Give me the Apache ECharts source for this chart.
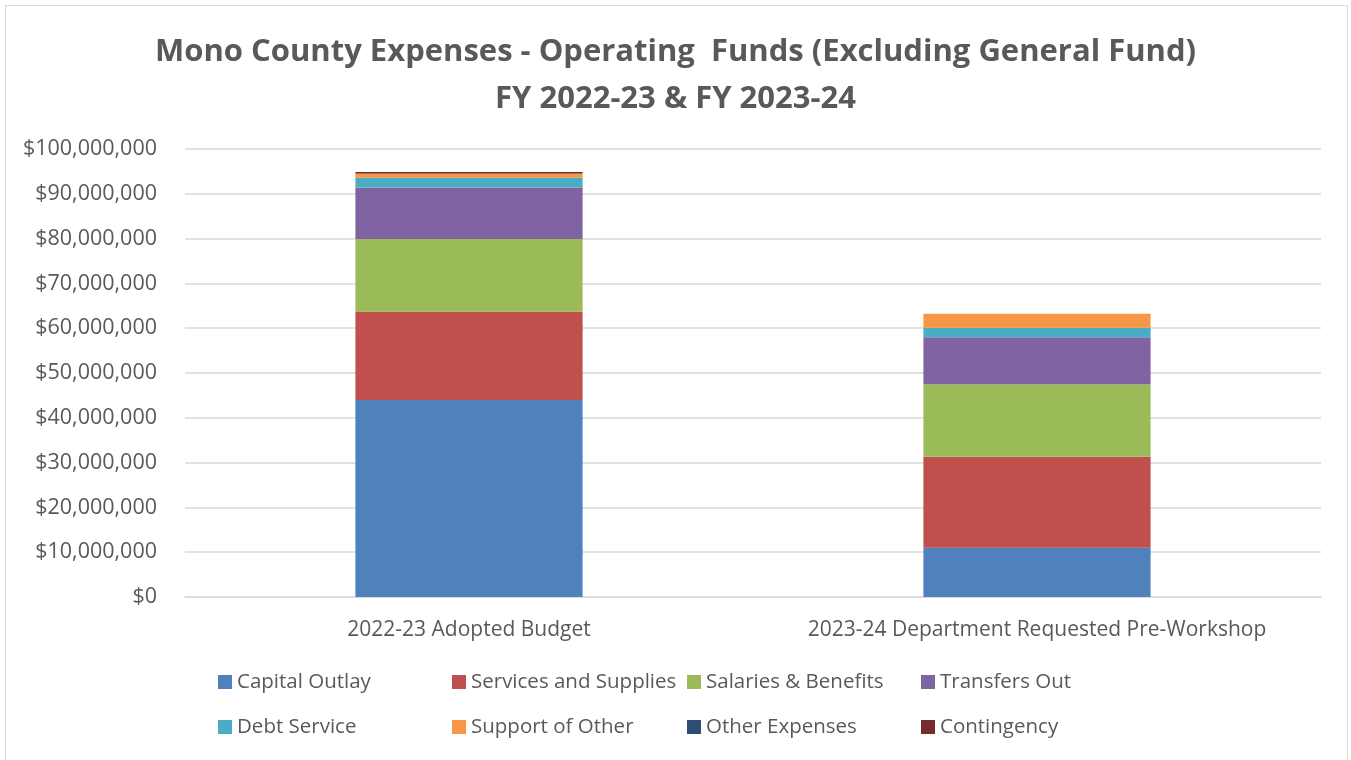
<!DOCTYPE html>
<html>
<head>
<meta charset="utf-8">
<script src="https://cdn.jsdelivr.net/npm/echarts@6/dist/echarts.min.js"></script>
<style>
html,body{margin:0;padding:0;background:#fff;}
#frame{position:absolute;left:5px;top:5px;width:1343px;height:760px;border:1.5px solid #D9D9D9;box-sizing:border-box;}
#chart{position:absolute;left:0;top:0;width:1351px;height:760px;}
</style>
</head>
<body>
<div id="frame"></div>
<div id="chart"></div>
<script>
const categories = ["2022-23 Adopted Budget", "2023-24 Department Requested Pre-Workshop"];
const seriesNames = ["Capital Outlay", "Services and Supplies", "Salaries & Benefits", "Transfers Out", "Debt Service", "Support of Other", "Other Expenses", "Contingency"];
const capitalOutlay = [44000000, 11000000];
const servicesSupplies = [19700000, 20300000];
const salariesBenefits = [16200000, 16200000];
const transfersOut = [11500000, 10500000];
const debtService = [2200000, 2100000];
const supportOfOther = [900000, 3100000];
const otherExpenses = [50000, 0];
const contingency = [300000, 0];
const yTicks = [0, 10000000, 20000000, 30000000, 40000000, 50000000, 60000000, 70000000, 80000000, 90000000, 100000000];

const colors = ["#4F81BD", "#C0504D", "#9BBB59", "#8064A2", "#4BACC6", "#F79646", "#2C4D75", "#772C2A"];
const values = [capitalOutlay, servicesSupplies, salariesBenefits, transfersOut, debtService, supportOfOther, otherExpenses, contingency];
const font = "Open Sans";
const txt = "#595959";

const legendPos = [[218, 671], [452, 671], [687, 671], [921, 671], [218, 716], [452, 716], [687, 716], [921, 716]];

const chart = echarts.init(document.getElementById('chart'), null, {renderer: 'canvas'});
chart.setOption({
  animation: false,
  color: colors,
  title: {
    text: "Mono County Expenses - Operating  Funds (Excluding General Fund)\nFY 2022-23 & FY 2023-24",
    left: 'center',
    top: 24,
    textStyle: {fontFamily: font, fontWeight: 'bold', fontSize: 31, color: txt, lineHeight: 47}
  },
  legend: seriesNames.map((n, i) => ({
    data: [n],
    left: legendPos[i][0],
    top: legendPos[i][1],
    padding: 0,
    itemWidth: 14,
    itemHeight: 14,
    itemGap: 5,
    icon: 'rect',
    textStyle: {fontFamily: font, fontSize: 20.5, lineHeight: 22, color: txt, padding: [0, 0, 0, 0]}
  })),
  grid: {left: 185, right: 30, top: 149, bottom: 163},
  xAxis: {
    type: 'category',
    data: categories,
    axisLine: {lineStyle: {color: '#D9D9D9', width: 1.5}},
    axisTick: {show: false},
    axisLabel: {fontFamily: font, fontSize: 21, color: txt, margin: 23, interval: 0, hideOverlap: false}
  },
  yAxis: {
    type: 'value',
    min: yTicks[0],
    max: yTicks[yTicks.length - 1],
    interval: 10000000,
    axisLine: {show: false},
    axisTick: {show: false},
    splitLine: {lineStyle: {color: '#D9D9D9', width: 1.5}},
    axisLabel: {
      fontFamily: font, fontSize: 21.5, color: txt, margin: 28,
      formatter: v => '$' + v.toLocaleString('en-US')
    }
  },
  series: seriesNames.map((n, i) => ({
    name: n,
    type: 'bar',
    stack: 'total',
    data: values[i],
    barWidth: '40%',
    itemStyle: {color: colors[i]}
  }))
});
</script>
</body>
</html>
